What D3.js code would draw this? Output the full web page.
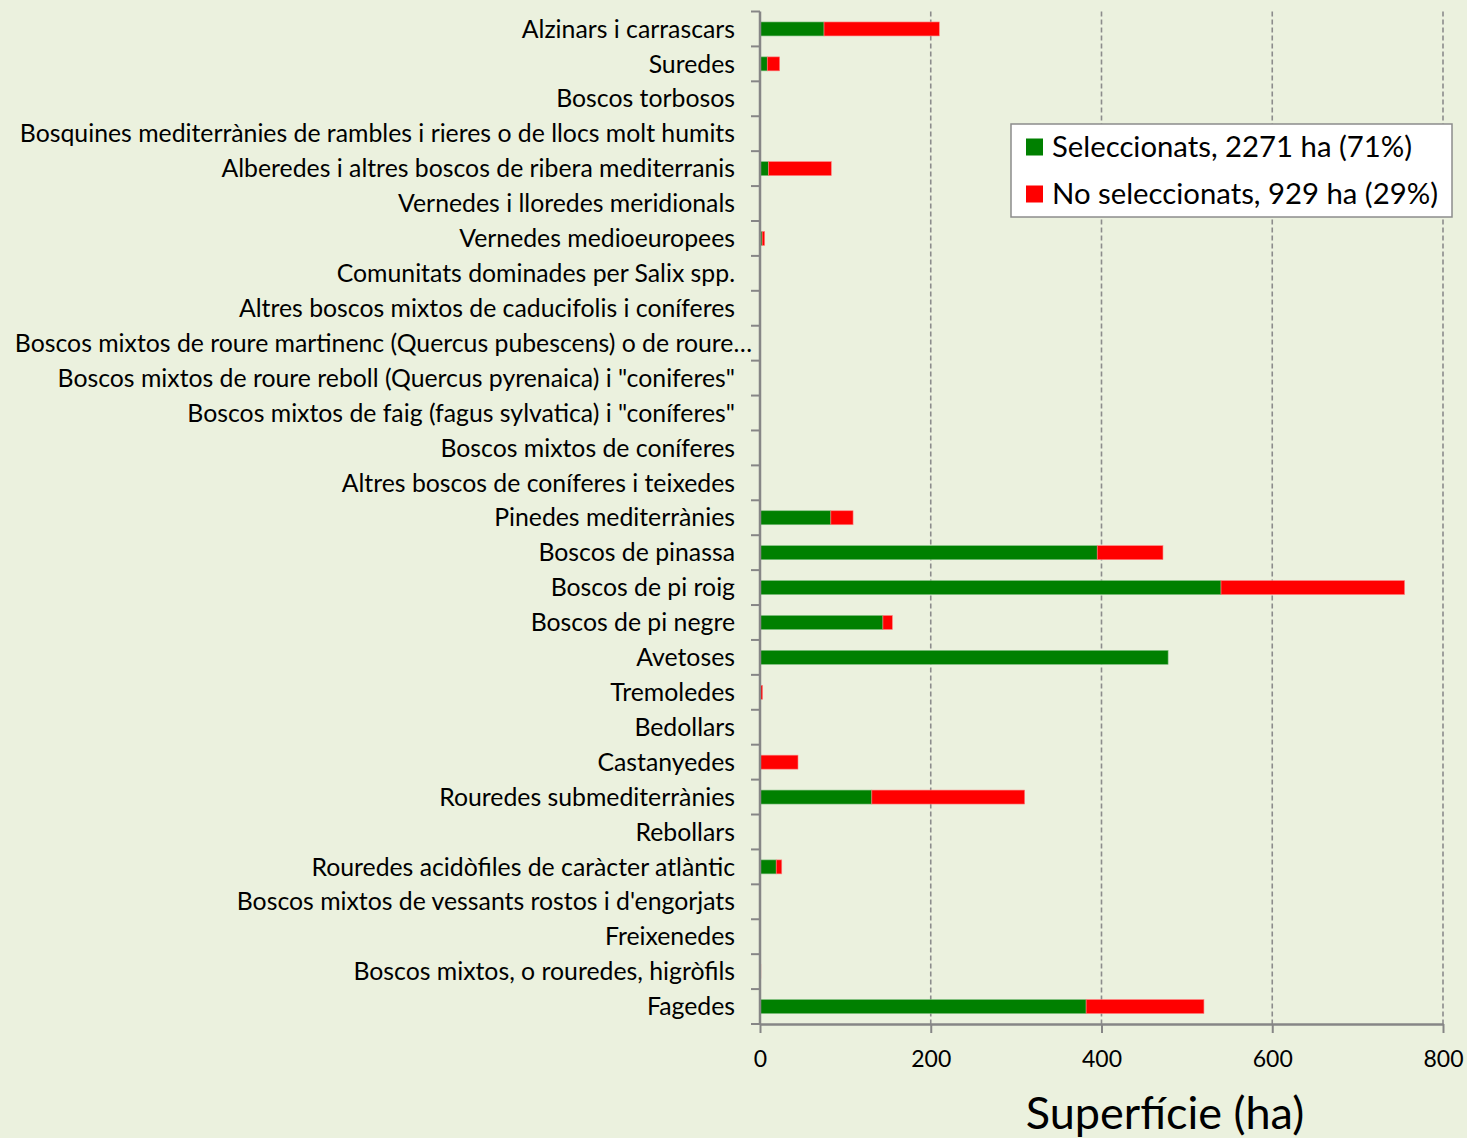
<!DOCTYPE html>
<html>
<head>
<meta charset="utf-8">
<title>Superfície per hàbitat</title>
<script src="https://d3js.org/d3.v7.min.js"></script>
<style>
  body { margin: 0; background: #ebf1de; }
  svg text { font-family: Lato, "Open Sans", sans-serif; fill: #000; }
</style>
</head>
<body>
<div id="chart"></div>
<script>
// categories, top to bottom
var habitats = [
  "Alzinars i carrascars",
  "Suredes",
  "Boscos torbosos",
  "Bosquines mediterrànies de rambles i rieres o de llocs molt humits",
  "Alberedes i altres boscos de ribera mediterranis",
  "Vernedes i lloredes meridionals",
  "Vernedes medioeuropees",
  "Comunitats dominades per Salix spp.",
  "Altres boscos mixtos de caducifolis i coníferes",
  "Boscos mixtos de roure martinenc (Quercus pubescens) o de roure…",
  "Boscos mixtos de roure reboll (Quercus pyrenaica) i \"coniferes\"",
  "Boscos mixtos de faig (fagus sylvatica) i \"coníferes\"",
  "Boscos mixtos de coníferes",
  "Altres boscos de coníferes i teixedes",
  "Pinedes mediterrànies",
  "Boscos de pinassa",
  "Boscos de pi roig",
  "Boscos de pi negre",
  "Avetoses",
  "Tremoledes",
  "Bedollars",
  "Castanyedes",
  "Rouredes submediterrànies",
  "Rebollars",
  "Rouredes acidòfiles de caràcter atlàntic",
  "Boscos mixtos de vessants rostos i d'engorjats",
  "Freixenedes",
  "Boscos mixtos, o rouredes, higròfils",
  "Fagedes"
];

// ha, same order as habitats
var seleccionats = [75, 8.5, 0, 0, 10, 0, 2.5, 0, 0, 0, 0, 0, 0, 0, 83, 395, 540, 144, 478, 0, 0, 0, 131, 0, 19, 0, 0, 0, 382];
var noSeleccionats = [135, 14.5, 0, 0, 73.5, 0, 3, 0, 0, 0, 0, 0, 0, 0, 26, 77, 215, 11, 0, 3, 0, 44.5, 179, 0, 6.5, 0, 0, 1, 138];

var xTicks = [0, 200, 400, 600, 800];
var seriesNames = ["Seleccionats, 2271 ha (71%)", "No seleccionats, 929 ha (29%)"];
var seriesColors = ["#008000", "#ff0000"];

var width = 1467, height = 1138;
var plotLeft = 760, plotRight = 1443, plotTop = 11.5, plotBottom = 1024;

var svg = d3.select("#chart").append("svg")
  .attr("width", width)
  .attr("height", height)
  .style("display", "block");

svg.append("rect").attr("width", width).attr("height", height).attr("fill", "#ebf1de");

var x = d3.scaleLinear().domain([0, 800]).range([plotLeft, plotRight]);
var y = d3.scaleBand().domain(habitats).range([plotTop, plotBottom]).paddingInner(0.6).paddingOuter(0.3);
var band = d3.scaleBand().domain(habitats).range([plotTop, plotBottom]);

// vertical dashed gridlines
svg.append("g").selectAll("line")
  .data(xTicks.slice(1))
  .join("line")
  .attr("x1", d => x(d)).attr("x2", d => x(d))
  .attr("y1", plotTop).attr("y2", plotBottom)
  .attr("stroke", "#8c8c8c")
  .attr("stroke-width", 1.6)
  .attr("stroke-dasharray", "5,3");

// stacked bars
var rows = habitats.map(function(h, i) {
  return { name: h, sel: seleccionats[i], no: noSeleccionats[i] };
});

var bars = svg.append("g");
bars.selectAll("rect.sel")
  .data(rows.filter(d => d.sel > 0))
  .join("rect")
  .attr("class", "sel")
  .attr("x", x(0))
  .attr("y", d => y(d.name))
  .attr("width", d => x(d.sel) - x(0))
  .attr("height", y.bandwidth())
  .attr("fill", seriesColors[0])
  .attr("stroke", "#7fbf7f")
  .attr("stroke-width", 0.6);

bars.selectAll("rect.no")
  .data(rows.filter(d => d.no > 0))
  .join("rect")
  .attr("class", "no")
  .attr("x", d => x(d.sel))
  .attr("y", d => y(d.name))
  .attr("width", d => x(d.sel + d.no) - x(d.sel))
  .attr("height", y.bandwidth())
  .attr("fill", seriesColors[1])
  .attr("stroke", "#ff8080")
  .attr("stroke-width", 0.6);

// category axis
var yAxis = svg.append("g")
  .attr("transform", "translate(" + plotLeft + ",0)")
  .call(d3.axisLeft(band).tickSize(0).tickPadding(25));
yAxis.select(".domain").remove();
yAxis.selectAll("text")
  .style("font-size", "24.8px")
  .attr("dy", "0.35em");
// the truncated label runs past the others
yAxis.selectAll(".tick text")
  .filter(d => d.endsWith("…"))
  .attr("x", -8);

// boundary ticks
svg.append("g").selectAll("line")
  .data(habitats.map(h => band(h)).concat([plotBottom]))
  .join("line")
  .attr("x1", plotLeft - 9).attr("x2", plotLeft)
  .attr("y1", d => d).attr("y2", d => d)
  .attr("stroke", "#868686")
  .attr("stroke-width", 2);

svg.append("line")
  .attr("x1", plotLeft).attr("x2", plotLeft)
  .attr("y1", plotTop).attr("y2", plotBottom)
  .attr("stroke", "#868686")
  .attr("stroke-width", 2.5);

// value axis
var xAxis = svg.append("g")
  .attr("transform", "translate(0," + plotBottom + ")")
  .call(d3.axisBottom(x).tickValues(xTicks).tickSize(9).tickPadding(14).tickSizeOuter(0));
xAxis.select(".domain").attr("stroke", "#868686").attr("stroke-width", 2.5);
xAxis.selectAll(".tick line").attr("stroke", "#868686").attr("stroke-width", 2);
xAxis.selectAll("text").style("font-size", "23px").attr("dy", "0.85em");

svg.append("text")
  .attr("x", 1165)
  .attr("y", 1129)
  .attr("text-anchor", "middle")
  .style("font-size", "45px")
  .text("Superfície (ha)");

// legend
var legend = svg.append("g").attr("transform", "translate(1011,124)");
legend.append("rect")
  .attr("width", 441).attr("height", 93)
  .attr("fill", "#fff")
  .attr("stroke", "#8c8c8c")
  .attr("stroke-width", 1.5);
var items = legend.selectAll("g.item")
  .data(seriesNames)
  .join("g")
  .attr("class", "item")
  .attr("transform", (d, i) => "translate(0," + (23 + i * 47) + ")");
items.append("rect")
  .attr("x", 15).attr("y", -8.5)
  .attr("width", 17).attr("height", 17)
  .attr("fill", (d, i) => seriesColors[i]);
items.append("text")
  .attr("x", 41)
  .attr("dy", "0.35em")
  .style("font-size", "29.3px")
  .text(d => d);
</script>
</body>
</html>
